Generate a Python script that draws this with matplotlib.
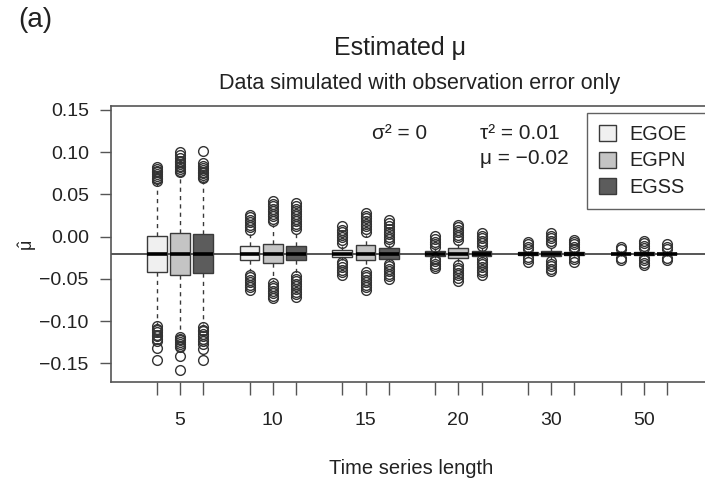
import numpy as np
import matplotlib
matplotlib.use("Agg")
import matplotlib.pyplot as plt
from matplotlib.patches import Patch

plt.rcParams['font.family'] = ['Liberation Sans', 'DejaVu Sans']
plt.rcParams['mathtext.fontset'] = 'custom'
plt.rcParams['mathtext.rm'] = 'Liberation Sans'
plt.rcParams['mathtext.it'] = 'Liberation Sans'

# data
lengths = [5, 10, 15, 20, 30, 50]
methods = ['EGOE', 'EGPN', 'EGSS']
fills = ['#f0f0f0', '#c4c4c4', '#5c5c5c']
mu_true = -0.02

# rows = series length, columns = method
med = [[-0.020, -0.020, -0.020],
       [-0.020, -0.020, -0.020],
       [-0.020, -0.020, -0.020],
       [-0.020, -0.020, -0.020],
       [-0.020, -0.020, -0.020],
       [-0.020, -0.020, -0.020]]
q1 = [[-0.042, -0.045, -0.043],
      [-0.028, -0.031, -0.028],
      [-0.024, -0.028, -0.026],
      [-0.023, -0.025, -0.023],
      [-0.022, -0.023, -0.022],
      [-0.021, -0.022, -0.021]]
q3 = [[0.001, 0.004, 0.003],
      [-0.011, -0.009, -0.011],
      [-0.016, -0.010, -0.014],
      [-0.017, -0.014, -0.017],
      [-0.018, -0.017, -0.018],
      [-0.019, -0.018, -0.019]]
whislo = [[-0.103, -0.115, -0.104],
          [-0.041, -0.052, -0.043],
          [-0.028, -0.037, -0.029],
          [-0.025, -0.030, -0.025],
          [-0.023, -0.027, -0.023],
          [-0.023, -0.023, -0.023]]
whishi = [[0.064, 0.073, 0.066],
          [0.003, 0.014, 0.004],
          [-0.011, 0.002, -0.010],
          [-0.014, -0.008, -0.014],
          [-0.017, -0.013, -0.017],
          [-0.017, -0.017, -0.017]]

fliers = [
    [[0.066, 0.068, 0.070, 0.072, 0.074, 0.076, 0.078, 0.080, 0.082,
      -0.106, -0.109, -0.111, -0.113, -0.116, -0.118, -0.121, -0.124, -0.132, -0.146],
     [0.076, 0.078, 0.080, 0.082, 0.084, 0.086, 0.088, 0.090, 0.093, 0.097, 0.100,
      -0.119, -0.121, -0.123, -0.125, -0.127, -0.129, -0.131, -0.141, -0.158],
     [0.069, 0.071, 0.073, 0.075, 0.077, 0.079, 0.081, 0.084, 0.087, 0.101,
      -0.107, -0.110, -0.112, -0.115, -0.118, -0.121, -0.124, -0.127, -0.133, -0.146]],
    [[0.008, 0.011, 0.014, 0.017, 0.020, 0.023, 0.026,
      -0.045, -0.048, -0.051, -0.054, -0.057, -0.060, -0.063],
     [0.018, 0.021, 0.024, 0.027, 0.030, 0.033, 0.036, 0.039, 0.042,
      -0.055, -0.058, -0.061, -0.064, -0.067, -0.070, -0.073],
     [0.009, 0.012, 0.015, 0.018, 0.021, 0.024, 0.027, 0.030, 0.033, 0.036, 0.040,
      -0.047, -0.050, -0.053, -0.056, -0.059, -0.062, -0.065, -0.068, -0.072]],
    [[-0.007, -0.004, -0.001, 0.002, 0.005, 0.008, 0.012,
      -0.030, -0.033, -0.036, -0.039, -0.042, -0.045],
     [0.006, 0.009, 0.012, 0.015, 0.018, 0.022, 0.025, 0.028,
      -0.042, -0.045, -0.048, -0.051, -0.054, -0.057, -0.060, -0.063],
     [-0.006, -0.003, 0.000, 0.003, 0.006, 0.009, 0.012, 0.016, 0.020,
      -0.032, -0.035, -0.038, -0.041, -0.044, -0.047, -0.050]],
    [[-0.012, -0.009, -0.006, -0.003, 0.001,
      -0.026, -0.029, -0.032, -0.035, -0.037],
     [-0.004, -0.001, 0.002, 0.005, 0.008, 0.011, 0.014,
      -0.034, -0.037, -0.040, -0.043, -0.046, -0.049, -0.053],
     [-0.011, -0.008, -0.005, -0.002, 0.001, 0.004,
      -0.027, -0.030, -0.033, -0.036, -0.039, -0.042, -0.045]],
    [[-0.015, -0.012, -0.009, -0.006, -0.024, -0.027, -0.030],
     [-0.008, -0.005, -0.002, 0.001, 0.004,
      -0.029, -0.032, -0.035, -0.038, -0.041],
     [-0.015, -0.012, -0.009, -0.006, -0.004, -0.024, -0.027, -0.030]],
    [[-0.015, -0.012, -0.025, -0.028],
     [-0.014, -0.011, -0.008, -0.005, -0.025, -0.028, -0.031, -0.034],
     [-0.015, -0.012, -0.009, -0.025, -0.028]],
]

yticks = [0.15, 0.10, 0.05, 0.00, -0.05, -0.10, -0.15]

fig = plt.figure(figsize=(7.05, 4.86), dpi=100)
ax = fig.add_axes([111 / 705, 1 - 381.7 / 486, 602.5 / 705, 275.7 / 486])

ax.axhline(mu_true, color='#555555', lw=1.4, zorder=1)

ink = '#3a3a3a'
positions = []
for g in range(len(lengths)):
    for m in range(len(methods)):
        pos = 2 + 4 * g + (m - 1)
        positions.append(pos)
        st = dict(med=med[g][m], q1=q1[g][m], q3=q3[g][m],
                  whislo=whislo[g][m], whishi=whishi[g][m],
                  fliers=np.array(fliers[g][m]))
        ax.bxp([st], positions=[pos], widths=0.85, patch_artist=True,
               showcaps=False,
               boxprops=dict(facecolor=fills[m], edgecolor=ink, lw=1.0),
               medianprops=dict(color='black', lw=2.6, solid_capstyle='butt'),
               whiskerprops=dict(color=ink, lw=1.0, linestyle=(0, (3, 3))),
               flierprops=dict(marker='o', markerfacecolor='none',
                               markeredgecolor='#333333', markersize=7,
                               markeredgewidth=1.0),
               zorder=3)

ax.set_xlim(-0.97, 25.0)
ax.set_ylim(-0.1718, 0.1547)

ax.set_xticks(positions)
ax.set_xticklabels(['' if i % 3 != 1 else str(lengths[i // 3])
                    for i in range(len(positions))])
ax.set_yticks(yticks)
ax.set_yticklabels(['%.2f' % v if v >= 0 else '\u2212%.2f' % -v for v in yticks])

for sp in ax.spines.values():
    sp.set_color('#555555')
    sp.set_linewidth(1.2)
ax.tick_params(axis='x', direction='out', length=9.5, width=1.0, color='#555555',
               labelsize=14, labelcolor='#222222', pad=12)
ax.tick_params(axis='y', direction='out', length=8, width=1.0, color='#555555',
               labelsize=14, labelcolor='#222222', pad=8)

handles = [Patch(facecolor=fills[m], edgecolor=ink, lw=1.0) for m in range(3)]
ax.legend(handles, methods, loc='upper left', mode='expand',
          bbox_to_anchor=(587 / 705, 0, 140 / 705, 1 - 113 / 486),
          bbox_transform=fig.transFigure,
          fontsize=14.3, frameon=True, fancybox=False, edgecolor=ink,
          borderpad=0.6, labelspacing=0.38, handlelength=0.85, handleheight=0.85,
          handletextpad=0.7, borderaxespad=0, labelcolor='#222222')
ax.get_legend().get_frame().set_linewidth(1.0)

fig.text(372 / 705, 1 - 133 / 486, '\u03c3\u00b2 = 0', fontsize=15,
         color='#222222', ha='left', va='center')
fig.text(480 / 705, 1 - 133 / 486, '\u03c4\u00b2 = 0.01', fontsize=15,
         color='#222222', ha='left', va='center')
fig.text(480 / 705, 1 - 158 / 486, '\u03bc = \u22120.02', fontsize=15,
         color='#222222', ha='left', va='center')

fig.text(35 / 705, 1 - 20 / 486, '(a)', fontsize=20, color='#222222',
         ha='center', va='center')
fig.text(400 / 705, 1 - 48 / 486, 'Estimated \u03bc', fontsize=18,
         color='#222222', ha='center', va='center')
fig.text(420 / 705, 1 - 84 / 486, 'Data simulated with observation error only',
         fontsize=15.5, color='#222222', ha='center', va='center')
fig.text(28 / 705, 1 - 245 / 486, r'$\hat{\mu}$', fontsize=13, color='#222222',
         rotation=90, ha='center', va='center')
fig.text(411 / 705, 1 - 468 / 486, 'Time series length', fontsize=14.5,
         color='#222222', ha='center', va='center')

fig.savefig('out.png', dpi=100)
